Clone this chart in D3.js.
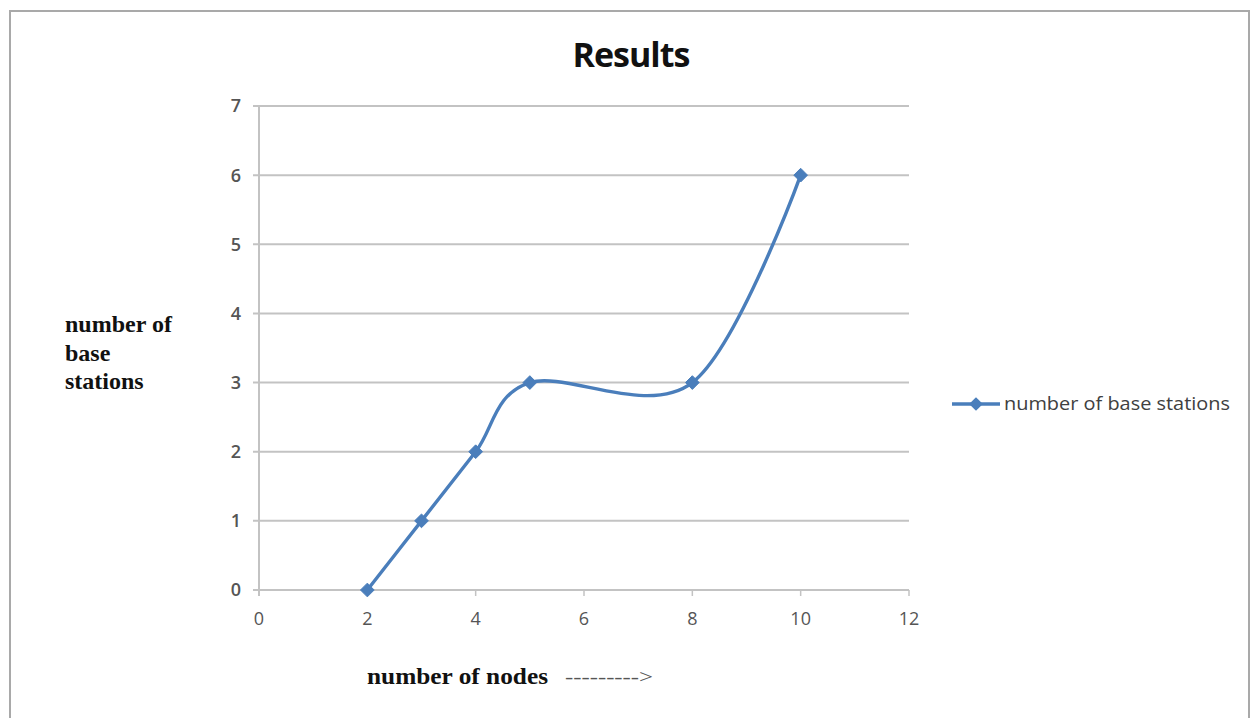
<!DOCTYPE html>
<html>
<head>
<meta charset="utf-8">
<script src="https://cdn.jsdelivr.net/npm/d3@7"></script>
<style>
  html, body { margin: 0; padding: 0; background: #ffffff; }
  svg { display: block; }
</style>
</head>
<body>
<svg id="chart" width="1253" height="718"></svg>
<script>
const xValues = [2, 3, 4, 5, 8, 10];
const yValues = [0, 1, 2, 3, 3, 6];
const xTicks = [0, 2, 4, 6, 8, 10, 12];
const yTicks = [0, 1, 2, 3, 4, 5, 6, 7];
const seriesName = "number of base stations";
const titleText = "Results";
const yLabelLines = ["number of", "base", "stations"];
const xLabelText = "number of nodes";
const xArrowText = "--------->";

const svg = d3.select("#chart");

// outer frame
svg.append("rect").attr("x", 10).attr("y", 11).attr("width", 1239).attr("height", 716)
  .attr("fill", "#ffffff").attr("stroke", "#a9a9a9").attr("stroke-width", 2);

const x = d3.scaleLinear().domain([0, 12]).range([259, 909]);
const y = d3.scaleLinear().domain([0, 7]).range([590, 106]);

const grid = "#c3c3c3";

// horizontal gridlines (extend left as tick marks)
svg.append("g").selectAll("line").data(yTicks).join("line")
  .attr("x1", x(0) - 6).attr("x2", x(12))
  .attr("y1", d => y(d)).attr("y2", d => y(d))
  .attr("stroke", grid).attr("stroke-width", 2);

// y axis line
svg.append("line").attr("x1", x(0)).attr("x2", x(0))
  .attr("y1", y(7)).attr("y2", y(0) + 6)
  .attr("stroke", grid).attr("stroke-width", 2);

// x tick marks
svg.append("g").selectAll("line").data(xTicks).join("line")
  .attr("x1", d => x(d)).attr("x2", d => x(d))
  .attr("y1", y(0)).attr("y2", y(0) + 6)
  .attr("stroke", grid).attr("stroke-width", 1.5);

// y tick labels
svg.append("g").selectAll("text").data(yTicks).join("text")
  .attr("x", x(0) - 18).attr("y", d => y(d)).attr("dy", "0.36em")
  .attr("text-anchor", "end")
  .attr("font-family", "'Open Sans', 'Liberation Sans', sans-serif")
  .attr("font-size", 18).attr("font-weight", 600).attr("fill", "#555555")
  .text(d => d);

// x tick labels
svg.append("g").selectAll("text").data(xTicks).join("text")
  .attr("x", d => x(d)).attr("y", y(0) + 35)
  .attr("text-anchor", "middle")
  .attr("font-family", "'Open Sans', 'Liberation Sans', sans-serif")
  .attr("font-size", 18).attr("fill", "#555555")
  .text(d => d);

// title
svg.append("text").attr("x", 631).attr("y", 67).attr("text-anchor", "middle")
  .attr("font-family", "'Open Sans', 'Liberation Sans', sans-serif")
  .attr("font-size", 34).attr("font-weight", 700).attr("fill", "#111111")
  .attr("letter-spacing", -1)
  .text(titleText);

// y axis label (serif bold, multi-line)
svg.append("g").selectAll("text").data(yLabelLines).join("text")
  .attr("x", 65).attr("y", (d, i) => 332 + i * 28.5)
  .attr("font-family", "'Liberation Serif', 'DejaVu Serif', serif")
  .attr("font-size", 24).attr("font-weight", 700).attr("fill", "#111111")
  .text(d => d);

// x axis label
svg.append("text").attr("x", 367).attr("y", 684)
  .attr("font-family", "'Liberation Serif', 'DejaVu Serif', serif")
  .attr("font-size", 24).attr("font-weight", 700).attr("fill", "#111111")
  .attr("textLength", 181).attr("lengthAdjust", "spacingAndGlyphs")
  .text(xLabelText);
svg.append("text").attr("x", 565).attr("y", 683)
  .attr("font-family", "'Liberation Serif', 'DejaVu Serif', serif")
  .attr("font-size", 18).attr("fill", "#555555")
  .attr("textLength", 88).attr("lengthAdjust", "spacingAndGlyphs")
  .text(xArrowText);

// series
const blue = "#4a7ebb";
const pts = xValues.map((v, i) => [v, yValues[i]]);
const line = d3.line().x(d => x(d[0])).y(d => y(d[1])).curve(d3.curveCardinal.tension(0));
svg.append("path").datum(pts).attr("d", line)
  .attr("fill", "none").attr("stroke", blue).attr("stroke-width", 3.4)
  .attr("stroke-linejoin", "round").attr("stroke-linecap", "round");

const diamond = d3.symbol().type(d3.symbolDiamond2).size(120);
svg.append("g").selectAll("path").data(pts).join("path")
  .attr("transform", d => `translate(${x(d[0])},${y(d[1])})`)
  .attr("d", diamond).attr("fill", blue).attr("stroke", blue).attr("stroke-width", 1);

// legend
const ly = 404;
svg.append("line").attr("x1", 952).attr("x2", 1000).attr("y1", ly).attr("y2", ly)
  .attr("stroke", blue).attr("stroke-width", 3.4);
svg.append("path").attr("transform", `translate(976,${ly})`).attr("d", diamond)
  .attr("fill", blue);
svg.append("text").attr("x", 1004).attr("y", ly).attr("dy", "0.35em")
  .attr("font-family", "'Open Sans', 'Liberation Sans', sans-serif")
  .attr("font-size", 18).attr("fill", "#404040")
  .attr("textLength", 226).attr("lengthAdjust", "spacingAndGlyphs")
  .text(seriesName);
</script>
</body>
</html>
